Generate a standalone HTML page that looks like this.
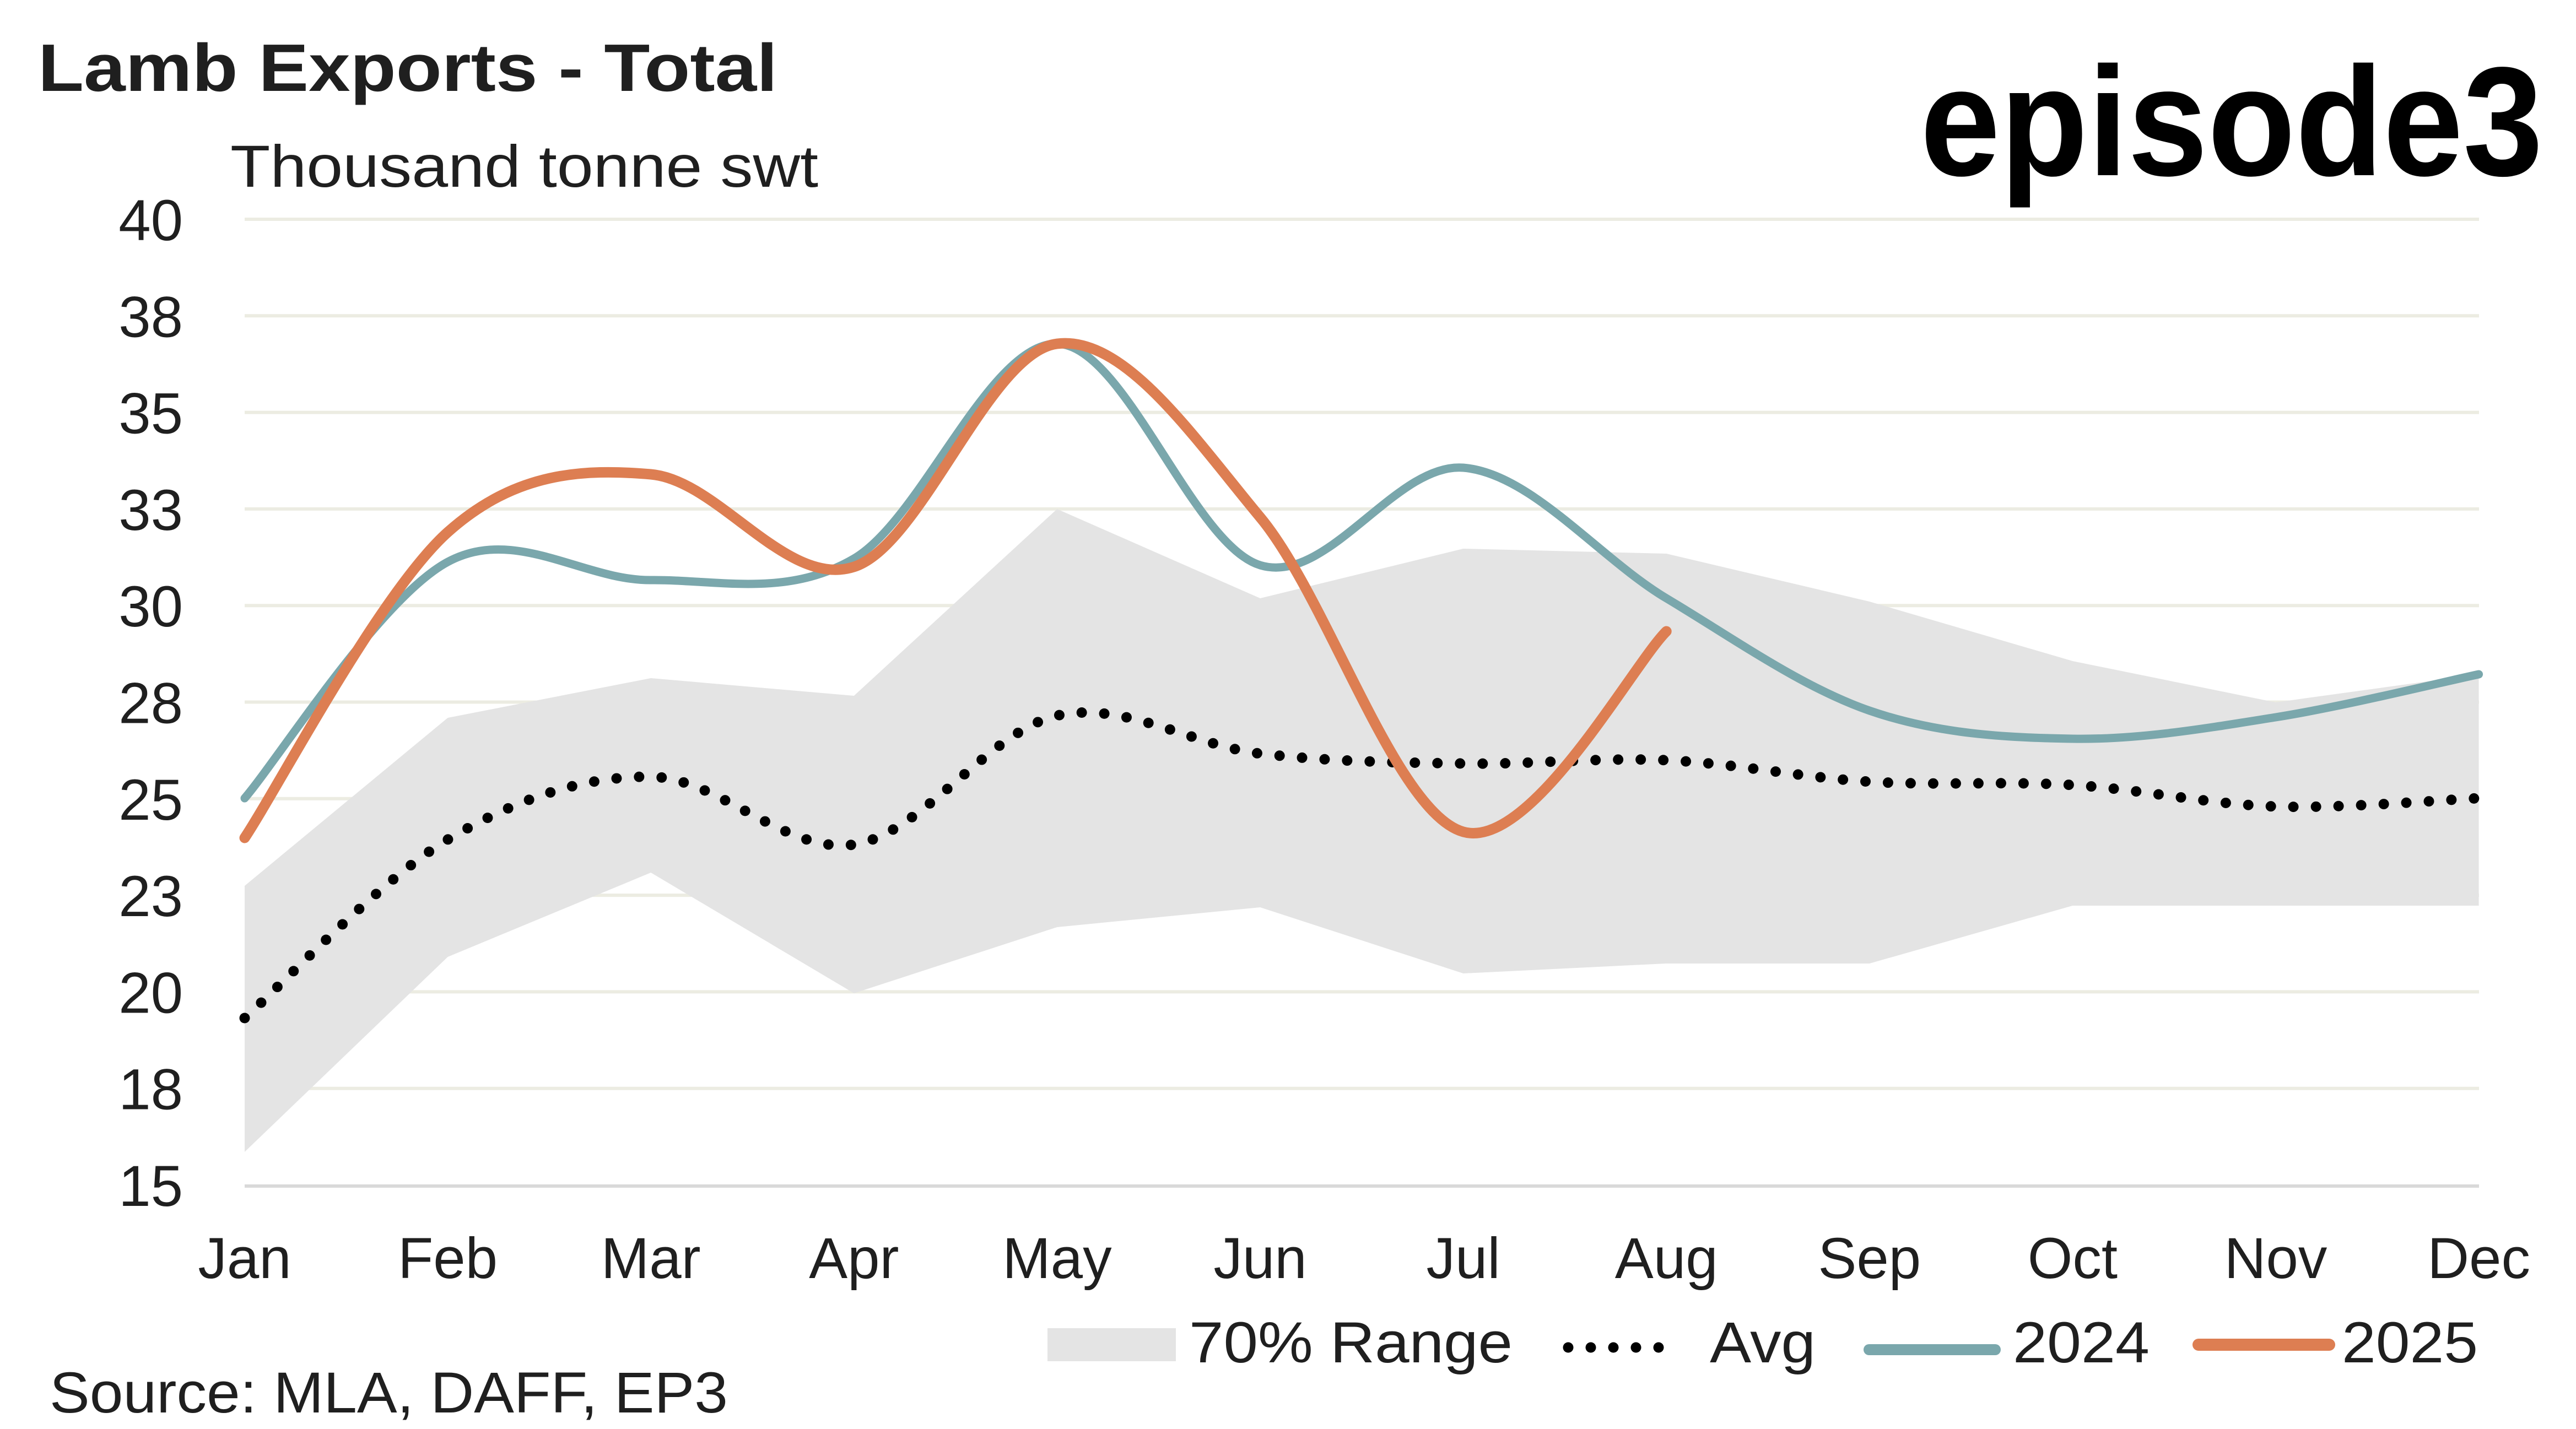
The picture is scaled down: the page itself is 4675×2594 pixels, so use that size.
<!DOCTYPE html>
<html><head><meta charset="utf-8"><style>
html,body{margin:0;padding:0;background:#fff;}
svg{display:block;}
text{font-family:"Liberation Sans",sans-serif;fill:#1f1f1f;}
</style></head><body>
<svg id="s" width="4675" height="2594" viewBox="0 0 4675 2594" xmlns="http://www.w3.org/2000/svg">
<rect width="4675" height="2594" fill="#fff"/>
<g id="grid" stroke="#ecece2" stroke-width="6"></g>
<path id="range" fill="#e4e4e4"/>
<line x1="444" y1="2153" x2="4499" y2="2153" stroke="#d9d9d9" stroke-width="6"/>
<path id="avg" fill="none" stroke="#000" stroke-width="19" stroke-linecap="round" stroke-dasharray="0 41"/>
<path id="l24" fill="none" stroke="#7aa7ac" stroke-width="15" stroke-linecap="round"/>
<path id="l25" fill="none" stroke="#dd7e52" stroke-width="19" stroke-linecap="round"/>
<text x="69" y="165" font-size="122" font-weight="bold" textLength="1342" lengthAdjust="spacingAndGlyphs">Lamb Exports - Total</text>
<text x="418" y="339" font-size="108" textLength="1067" lengthAdjust="spacingAndGlyphs">Thousand tonne swt</text>
<text x="3485" y="318" font-size="282" font-weight="bold" fill="#000" textLength="1130" lengthAdjust="spacingAndGlyphs" style="fill:#000">episode3</text>
<g id="ylab" font-size="105" text-anchor="end"></g>
<g id="xlab" font-size="105" text-anchor="middle"></g>
<text x="90" y="2564" font-size="105" textLength="1231" lengthAdjust="spacingAndGlyphs">Source: MLA, DAFF, EP3</text>
<rect x="1901" y="2411" width="233" height="60" fill="#e4e4e4"/>
<text x="2158" y="2473" font-size="105" textLength="587" lengthAdjust="spacingAndGlyphs">70% Range</text>
<line x1="2846" y1="2446" x2="3050" y2="2446" stroke="#000" stroke-width="19" stroke-linecap="round" stroke-dasharray="0 41"/>
<text x="3103" y="2473" font-size="105" textLength="192" lengthAdjust="spacingAndGlyphs">Avg</text>
<line x1="3392" y1="2450" x2="3621" y2="2450" stroke="#7aa7ac" stroke-width="20" stroke-linecap="round"/>
<text x="3653" y="2473" font-size="105" textLength="248" lengthAdjust="spacingAndGlyphs">2024</text>
<line x1="3990" y1="2441" x2="4227" y2="2441" stroke="#dd7e52" stroke-width="22" stroke-linecap="round"/>
<text x="4250" y="2473" font-size="105" textLength="247" lengthAdjust="spacingAndGlyphs">2025</text>
</svg>
<script>
var NS="http://www.w3.org/2000/svg";
function X(i){return 444+i*368.6;}
var g=document.getElementById('grid'),yl=document.getElementById('ylab'),xl=document.getElementById('xlab');
var labs=["40","38","35","33","30","28","25","23","20","18"];
for(var k=0;k<=10;k++){var y=398+k*175.3;
 if(k<10){var l=document.createElementNS(NS,'line');l.setAttribute('x1',444);l.setAttribute('x2',4499);l.setAttribute('y1',y);l.setAttribute('y2',y);g.appendChild(l);}
 var t=document.createElementNS(NS,'text');t.setAttribute('x',332);t.setAttribute('y',y+38);t.textContent=k<10?labs[k]:"15";yl.appendChild(t);}
var m=["Jan","Feb","Mar","Apr","May","Jun","Jul","Aug","Sep","Oct","Nov","Dec"];
m.forEach(function(s,i){var t=document.createElementNS(NS,'text');t.setAttribute('x',X(i));t.setAttribute('y',2320);t.textContent=s;xl.appendChild(t);});
var up=[1608,1303,1231,1263,924,1086,996,1005,1092,1200,1275,1224];
var lo=[2091,1737,1584,1803,1683,1647,1767,1749,1749,1644,1644,1644];
var d="M"+X(0)+","+up[0];for(var i=1;i<12;i++)d+="L"+X(i)+","+up[i];
for(var i=11;i>=0;i--)d+="L"+X(i)+","+lo[i];
document.getElementById('range').setAttribute('d',d+"Z");
function smooth(ys){var p=ys.map(function(y,i){return [X(i),y];});var s="M"+p[0][0]+","+p[0][1];
 for(var i=0;i<p.length-1;i++){var p0=p[i-1]||p[i],p1=p[i],p2=p[i+1],p3=p[i+2]||p[i+1];
  s+="C"+(p1[0]+(p2[0]-p0[0])/6)+","+(p1[1]+(p2[1]-p0[1])/6)+" "+(p2[0]-(p3[0]-p1[0])/6)+","+(p2[1]-(p3[1]-p1[1])/6)+" "+p2[0]+","+p2[1];}
 return s;}
document.getElementById('avg').setAttribute('d',smooth([1848,1524,1410,1533,1299,1368,1386,1380,1419,1425,1464,1449]));
document.getElementById('l24').setAttribute('d',smooth([1449,1020,1053,1014,624,1026,849,1086,1290,1341,1302,1224]));
document.getElementById('l25').setAttribute('d',smooth([1521,966,861,1029,624,939,1510,1146]));
</script>
</body></html>
